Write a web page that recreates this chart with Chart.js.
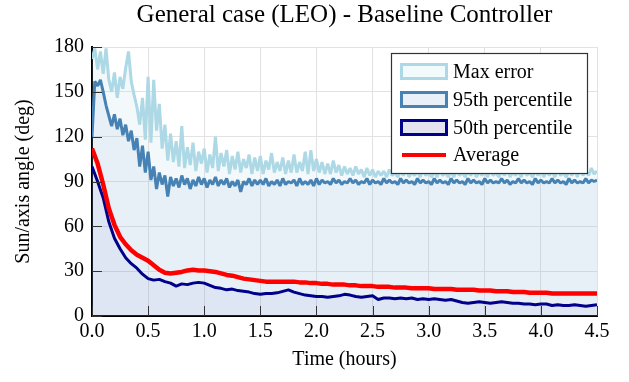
<!DOCTYPE html>
<html>
<head>
<meta charset="utf-8">
<script src="https://cdn.jsdelivr.net/npm/chart.js@4"></script>
<style>
  html, body { margin: 0; padding: 0; background: #fff; }
</style>
</head>
<body>
<canvas id="chart" width="629" height="382"></canvas>
<script>
// time steps (hours) for the sampled series
const fineStep = 0.025;
const coarseStep = 0.05;

const maxError = [
  172, 179, 165, 177, 162, 179, 158, 150, 163, 146, 160, 152, 166, 177, 157, 148,
  140, 128, 146, 118, 160, 116, 158, 124, 142, 112, 128, 104, 122, 103, 117, 100,
  127, 99, 113, 101, 116, 97, 110, 102, 112, 96, 108, 99, 120, 97, 109, 100,
  111, 95, 107, 98, 110, 96, 105, 99, 108, 95, 106, 97, 107, 95, 104, 98,
  109, 96, 103, 97, 106, 95, 104, 96, 108, 96, 103, 97, 110, 95, 111, 97,
  105, 96, 103, 95, 102, 95, 104, 96, 101, 94, 100, 95, 99, 94, 100, 95,
  98, 93, 99, 94, 98, 93, 97, 94, 97, 93, 98, 94, 96, 93, 97, 94,
  98, 93, 96, 94, 97, 93, 98, 94, 96, 93, 97, 93, 98, 94, 96, 93,
  97, 93, 98, 94, 96, 93, 97, 94, 98, 93, 96, 94, 97, 93, 98, 94,
  96, 93, 97, 94, 98, 93, 96, 94, 97, 93, 98, 94, 96, 93, 97, 94,
  98, 93, 97, 94, 97, 93, 98, 94, 96, 93, 97, 94, 98, 93, 99, 94,
  97, 94, 99, 95, 97
];

const p95 = [
  120, 157, 154, 158, 150, 141, 134, 127, 135, 125, 132, 121, 128, 117, 124, 111,
  119, 100, 114, 96, 110, 91, 100, 85, 96, 88, 94, 80, 93, 87, 92, 86,
  94, 88, 92, 85, 91, 87, 93, 88, 92, 86, 91, 88, 93, 87, 91, 88,
  92, 86, 90, 87, 91, 83, 90, 88, 92, 87, 91, 88, 91, 88, 92, 87,
  90, 88, 91, 87, 92, 88, 90, 89, 91, 87, 92, 88, 90, 88, 91, 87,
  92, 88, 91, 89, 90, 88, 92, 89, 91, 88, 90, 89, 92, 89, 91, 88,
  90, 89, 92, 88, 91, 89, 90, 88, 92, 89, 91, 89, 90, 88, 92, 89,
  91, 89, 90, 88, 92, 89, 91, 89, 90, 88, 92, 89, 91, 89, 90, 88,
  92, 89, 91, 89, 90, 88, 92, 89, 91, 89, 90, 88, 92, 89, 91, 89,
  90, 89, 92, 89, 91, 88, 90, 89, 92, 89, 91, 89, 90, 88, 92, 89,
  91, 89, 90, 89, 92, 89, 91, 89, 90, 88, 92, 89, 91, 89, 90, 89,
  92, 89, 91, 90, 91
];

const p50 = [
  100, 90, 79, 63, 52, 45, 39, 35, 32, 28,
  25, 24, 24.5, 23, 22, 20, 21.5, 21, 22, 22.5,
  22, 20.5, 19, 18.5, 17.5, 18, 17, 16.5, 16, 15,
  14.5, 15, 15, 15.5, 16.5, 17.5, 16, 15, 14, 13.5,
  13, 13, 12.5, 13, 13.5, 14.5, 14, 13, 12.5, 13,
  13.5, 11, 12, 12, 11.5, 12, 11.5, 12, 11, 11.5,
  11, 11.5, 11, 10.5, 11, 10, 9, 8.5, 9, 9.5,
  9, 8.5, 9, 9.5, 9, 8.5, 8.5, 8, 8, 7.5,
  8, 8, 7, 7.5, 7, 7, 7.5, 7, 6.5, 7,
  7.5
];

const average = [
  112, 102, 88, 72, 61, 53, 48, 44, 41, 39,
  37, 34, 31, 29, 28.5, 29, 29.5, 30.5, 31, 30.5,
  30.5, 30, 29.5, 28.5, 27.5, 27, 26, 25, 24.5, 24,
  23.5, 23, 23, 23, 23, 23, 23, 22.5, 22.5, 22,
  22, 21.5, 21.5, 21, 21, 21, 20.5, 20.5, 20, 20,
  20, 19.5, 19.5, 19.5, 19, 19, 19, 18.5, 18.5, 18.5,
  18.5, 18, 18, 18, 18, 17.5, 17.5, 17.5, 17.5, 17,
  17, 17, 16.5, 16.5, 16.5, 16, 16, 16, 15.5, 15.5,
  15.5, 15.5, 15, 15, 15, 15, 15, 15, 15, 15,
  15
];

const seriesNames = ['Max error', '95th percentile', '50th percentile', 'Average'];
const lineColors = ['#add8e6', '#4682b4', '#00008b', '#ff0000'];
const fillColors = ['rgba(173,216,230,0.15)', 'rgba(70,130,180,0.07)', 'rgba(0,0,139,0.045)', 'rgba(0,0,0,0)'];
const swatchFills = ['#f3fafc', '#eaf0f8', '#e4e4f0', null];

const serif = 'Liberation Serif, Times New Roman, serif';

function toPoints(values, step) {
  return values.map((v, i) => ({ x: +(i * step).toFixed(3), y: v }));
}

// titles, inward tick marks and the boxed legend
const decorations = {
  id: 'decorations',
  afterDraw(chart) {
    const ctx = chart.ctx;
    const area = chart.chartArea;
    const xs = chart.scales.x, ys = chart.scales.y;
    ctx.save();

    ctx.strokeStyle = '#333';
    ctx.lineWidth = 1;
    xs.ticks.forEach(t => {
      const px = Math.round(xs.getPixelForValue(t.value)) + 0.5;
      ctx.beginPath();
      ctx.moveTo(px, area.bottom);
      ctx.lineTo(px, area.bottom - 10);
      ctx.stroke();
    });
    ys.ticks.forEach(t => {
      const py = Math.round(ys.getPixelForValue(t.value)) + 0.5;
      ctx.beginPath();
      ctx.moveTo(area.left, py);
      ctx.lineTo(area.left + 10, py);
      ctx.stroke();
    });

    ctx.fillStyle = '#000';
    ctx.textAlign = 'center';
    ctx.textBaseline = 'middle';
    ctx.font = '25px ' + serif;
    ctx.fillText('General case (LEO) - Baseline Controller', (area.left + area.right) / 2, 15);
    ctx.font = '20px ' + serif;
    ctx.fillText('Time (hours)', (area.left + area.right) / 2, 360);
    ctx.save();
    ctx.translate(24, (area.top + area.bottom) / 2);
    ctx.rotate(-Math.PI / 2);
    ctx.fillText('Sun/axis angle (deg)', 0, 0);
    ctx.restore();

    // legend box
    const lx = 391.5, ly = 53.5, lw = 196, lh = 120;
    ctx.fillStyle = '#fff';
    ctx.fillRect(lx, ly, lw, lh);
    ctx.strokeStyle = '#333';
    ctx.lineWidth = 1.2;
    ctx.strokeRect(lx, ly, lw, lh);

    const rowY = [71.5, 99.5, 127.5, 155];
    ctx.font = '20px ' + serif;
    ctx.textAlign = 'left';
    seriesNames.forEach((name, i) => {
      const cy = rowY[i];
      if (swatchFills[i]) {
        ctx.fillStyle = swatchFills[i];
        ctx.fillRect(401.5, cy - 7, 45, 14);
        ctx.strokeStyle = lineColors[i];
        ctx.lineWidth = 3;
        ctx.strokeRect(401.5, cy - 7, 45, 14);
      } else {
        ctx.strokeStyle = lineColors[i];
        ctx.lineWidth = 4;
        ctx.beginPath();
        ctx.moveTo(402, cy);
        ctx.lineTo(446, cy);
        ctx.stroke();
      }
      ctx.fillStyle = '#000';
      ctx.fillText(name, 453, cy + 1);
    });
    ctx.restore();
  }
};

const tickFont = { family: serif, size: 20 };

new Chart(document.getElementById('chart'), {
  type: 'line',
  data: {
    datasets: [
      { label: seriesNames[0], data: toPoints(maxError, fineStep), borderColor: lineColors[0], backgroundColor: fillColors[0], borderWidth: 3, borderJoinStyle: 'bevel', fill: 'origin', order: 4 },
      { label: seriesNames[1], data: toPoints(p95, fineStep), borderColor: lineColors[1], backgroundColor: fillColors[1], borderWidth: 3, borderJoinStyle: 'bevel', fill: 'origin', order: 3 },
      { label: seriesNames[2], data: toPoints(p50, coarseStep), borderColor: lineColors[2], backgroundColor: fillColors[2], borderWidth: 3, borderJoinStyle: 'bevel', fill: 'origin', order: 2 },
      { label: seriesNames[3], data: toPoints(average, coarseStep), borderColor: lineColors[3], backgroundColor: fillColors[3], borderWidth: 4.5, borderJoinStyle: 'round', fill: false, order: 1 }
    ]
  },
  options: {
    responsive: false,
    animation: false,
    devicePixelRatio: 1,
    elements: { point: { radius: 0 }, line: { tension: 0 } },
    layout: { padding: { left: 0, right: 32, top: 47, bottom: 0 } },
    plugins: {
      legend: { display: false },
      title: { display: false },
      tooltip: { enabled: false }
    },
    scales: {
      x: {
        type: 'linear',
        min: 0,
        max: 4.5,
        afterFit(scale) { scale.height = 66; },
        ticks: {
          stepSize: 0.5,
          autoSkip: false,
          maxRotation: 0,
          padding: 4,
          color: '#000',
          font: tickFont,
          callback: v => Number(v).toFixed(1)
        },
        grid: { color: '#e2e2e2', drawTicks: false },
        border: { color: '#000', width: 2 }
      },
      y: {
        min: 0,
        max: 180,
        afterFit(scale) { scale.width = 92; },
        ticks: {
          stepSize: 30,
          padding: 8,
          color: '#000',
          font: tickFont
        },
        grid: { color: '#e2e2e2', drawTicks: false },
        border: { color: '#000', width: 2 }
      }
    }
  },
  plugins: [decorations]
});
</script>
</body>
</html>
